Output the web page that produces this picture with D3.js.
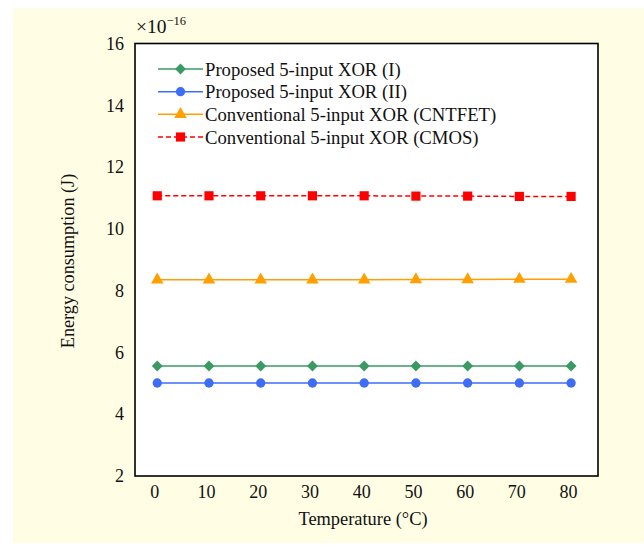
<!DOCTYPE html>
<html><head><meta charset="utf-8">
<script src="https://cdn.jsdelivr.net/npm/d3@7"></script>
<style>body{margin:0;background:#fff;} svg{display:block;} text{font-family:"Liberation Serif","Times New Roman",serif;fill:#111;}</style>
</head><body>
<svg id="chart" width="644" height="549"></svg>
<script>
const temps = [0,10,20,30,40,50,60,70,80];
const proposedI = [5.56,5.56,5.56,5.56,5.56,5.56,5.56,5.56,5.56];
const proposedII = [5.01,5.01,5.01,5.01,5.01,5.01,5.01,5.01,5.01];
const cntfet = [8.35,8.35,8.35,8.35,8.35,8.36,8.36,8.37,8.37];
const cmos = [11.07,11.07,11.07,11.07,11.07,11.06,11.06,11.05,11.05];
const yTicks = [2,4,6,8,10,12,14,16];
const xTicks = [0,10,20,30,40,50,60,70,80];
const seriesNames = ["Proposed 5-input XOR (I)","Proposed 5-input XOR (II)","Conventional 5-input XOR (CNTFET)","Conventional 5-input XOR (CMOS)"];

const series = [
  {name:seriesNames[0], values:proposedI, color:"#3a9a64", sym:d3.symbolDiamond2, size:75, dash:null},
  {name:seriesNames[1], values:proposedII, color:"#3d6cf6", sym:d3.symbolCircle, size:68, dash:null},
  {name:seriesNames[2], values:cntfet, color:"#ffa000", sym:d3.symbolTriangle, size:68, dash:null},
  {name:seriesNames[3], values:cmos, color:"#ff0000", sym:d3.symbolSquare, size:84, dash:"5,3"}
];

const svg = d3.select("#chart");
svg.append("rect").attr("x",13).attr("y",8).attr("width",631).attr("height",535).attr("fill","#fffde4");

const L=135, R=598, T=43.5, B=476;
const x = d3.scaleLinear().domain([-4.3, 85.2]).range([L,R]);
const y = d3.scaleLinear().domain([2,16]).range([B,T]);

svg.append("rect").attr("x",L).attr("y",T).attr("width",R-L).attr("height",B-T).attr("fill","#fff");

const FS = 18;
const yAxis = d3.axisLeft(y).tickValues(yTicks).tickSize(0).tickPadding(11).tickFormat(d3.format("d"));
const gy = svg.append("g").attr("transform",`translate(${L},0)`).call(yAxis);
gy.select(".domain").remove();
gy.selectAll("text").attr("font-size",FS).attr("fill","#111").attr("font-family","Liberation Serif");

const xAxis = d3.axisBottom(x).tickValues(xTicks).tickSize(0).tickPadding(9).tickFormat(d3.format("d"));
const gx = svg.append("g").attr("transform",`translate(-3,${B})`).call(xAxis);
gx.select(".domain").remove();
gx.selectAll("text").attr("font-size",FS).attr("fill","#111").attr("font-family","Liberation Serif");

series.forEach(s=>{
  const line = d3.line().x((d,i)=>x(temps[i])).y(d=>y(d));
  svg.append("path").datum(s.values).attr("d",line).attr("fill","none")
    .attr("stroke",s.color).attr("stroke-width",1.5).attr("stroke-dasharray",s.dash);
  svg.selectAll(null).data(s.values).enter().append("path")
    .attr("d",d3.symbol().type(s.sym).size(s.size))
    .attr("transform",(d,i)=>`translate(${x(temps[i])},${y(d)})`)
    .attr("fill",s.color);
});

svg.append("rect").attr("x",L).attr("y",T).attr("width",R-L).attr("height",B-T)
  .attr("fill","none").attr("stroke","#000").attr("stroke-width",1.6);

const legY = [69,91.7,114.3,137];
series.forEach((s,i)=>{
  const g = svg.append("g").attr("transform",`translate(0,${legY[i]})`);
  g.append("line").attr("x1",158).attr("x2",203).attr("y1",0).attr("y2",0)
    .attr("stroke",s.color).attr("stroke-width",1.5).attr("stroke-dasharray",s.dash);
  g.append("path").attr("d",d3.symbol().type(s.sym).size(s.size)).attr("transform","translate(180.5,0)").attr("fill",s.color);
  g.append("text").attr("x",205).attr("y",6.5).attr("font-size",18.7).text(s.name);
});

const ex = svg.append("text").attr("x",136).attr("y",33).attr("font-size",19.5);
ex.append("tspan").text("×10");
ex.append("tspan").attr("dy",-8).attr("font-size",12.5).text("−16");

svg.append("text").attr("x",363).attr("y",525).attr("text-anchor","middle").attr("font-size",18.4).text("Temperature (°C)");
svg.append("text").attr("transform",`translate(74,261) rotate(-90)`).attr("text-anchor","middle").attr("font-size",18.2).text("Energy consumption (J)");
</script>
</body></html>
